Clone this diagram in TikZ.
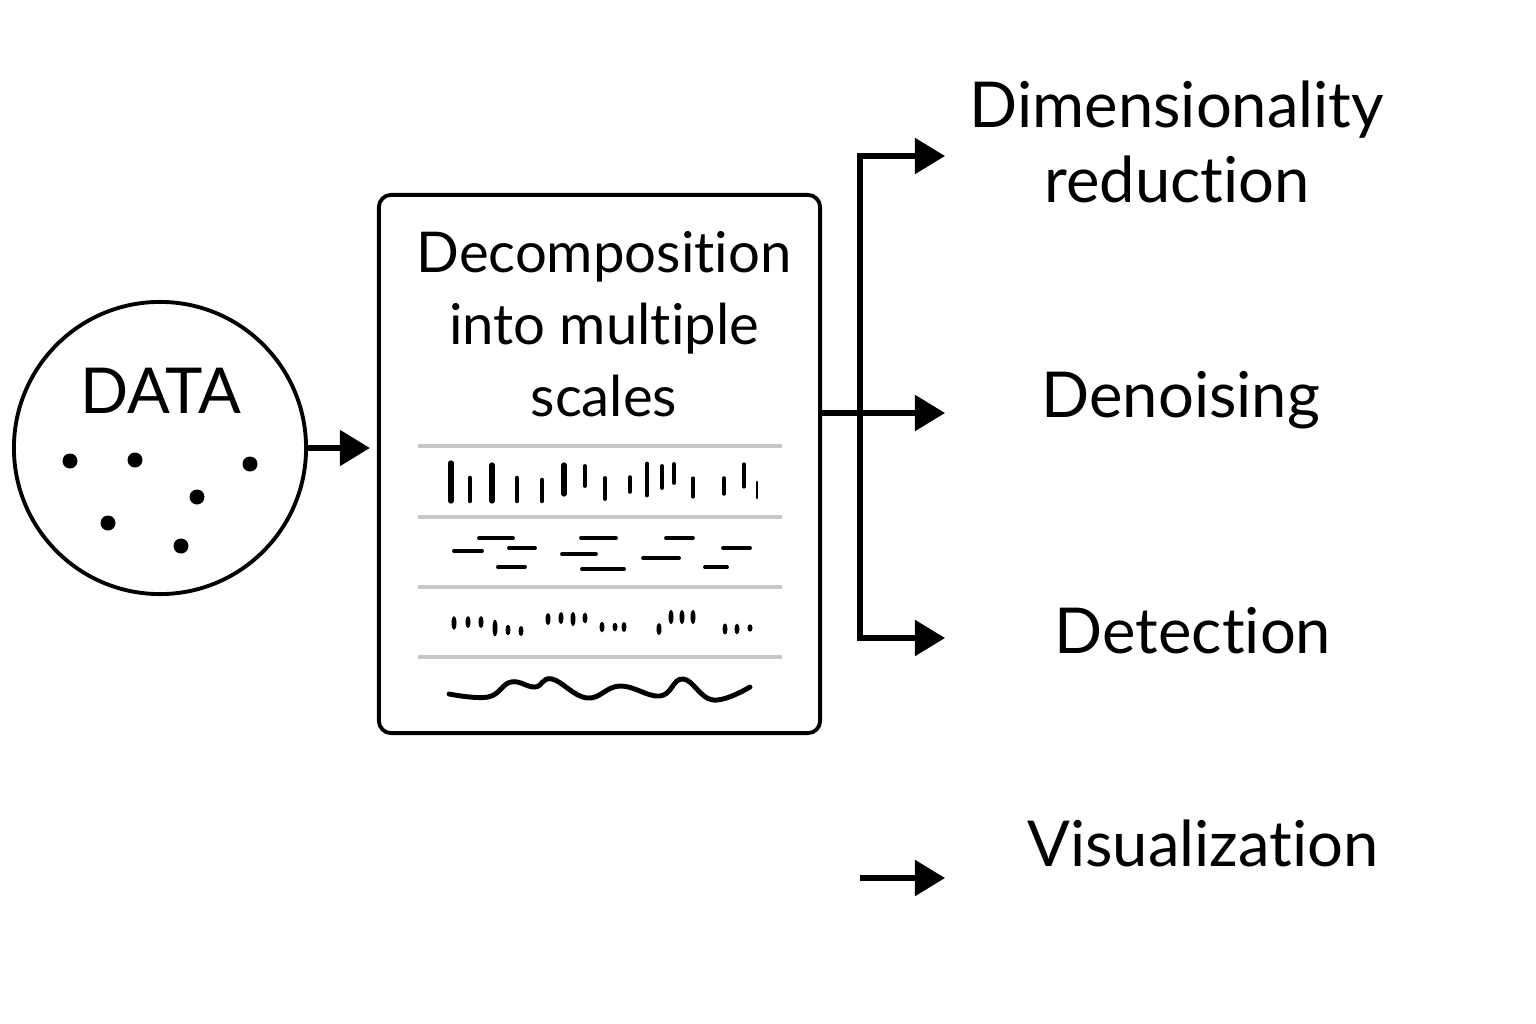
\documentclass[tikz,border=0pt]{standalone}
\usepackage{fontspec}
\setmainfont[Ligatures=NoCommon]{Lato}
\usetikzlibrary{arrows.meta,positioning}
\tikzstyle{datacircle} = [circle, draw=black, line width=1.1pt, minimum size=2.92cm, inner sep=0pt]
\tikzstyle{scalebox} = [rectangle, rounded corners=3.5pt, draw=black, line width=1.1pt, minimum width=4.41cm, minimum height=5.38cm]
\tikzstyle{bigtext} = [anchor=base, align=center, inner sep=0pt, font=\fontsize{18pt}{21.3pt}\selectfont]
\tikzstyle{boxtext} = [anchor=base, align=center, inner sep=0pt, font=\fontsize{16pt}{20.4pt}\selectfont]
\tikzstyle{arrow} = [line width=1.5pt, -{Triangle[length=0.3cm,width=0.35cm]}]
\tikzstyle{sepline} = [line width=1.1pt, draw=black!22]

\begin{document}
\begin{tikzpicture}[x=0.01cm, y=-0.01cm]
	\useasboundingbox (0,0) rectangle (1536,1024);
	\node (data) [datacircle] at (160,448) {};
	\node (datatxt) [bigtext] at (161,413) {DATA};
	\foreach \px/\py in {70/461, 135/460, 250/464, 197/497, 108/523, 181/546}
		\fill (\px,\py) circle [radius=7.5];
	\node (decomp) [scalebox] at (599.5,464) {};
	\node (decomptxt) [boxtext] at (604,416) {Decomposition\\into multiple\\scales};
	% scale rows
	\foreach \sy in {446,517,587,657}
		\draw[sepline] (418,\sy) -- (782,\sy);
	\foreach \bx/\ba/\bb/\bw in {451/463/501/1.5, 470/478/501/1.3, 492/465/501/1.5, 517/478/501/1.3, 542/480/501/1.3, 564/465/494/1.5, 585/466/486/1.1, 605/478/499/1.1, 630/477/492/1.0, 647/464/495/1.4, 662/466/488/1.1, 674/464/483/1.1, 693/478/497/0.9, 724/478/494/1.0, 744/464/487/0.9, 757/482/498/0.8}
		\draw[line width=\bw pt, line cap=round] (\bx,\ba) -- (\bx,\bb);
	\foreach \da/\db/\dy in {479/513/538, 454/482/551, 509/535/548, 498/525/567, 581/616/538, 562/596/554, 582/624/569, 666/693/538, 643/679/558, 723/750/548, 705/727/567}
		\draw[line width=1.1pt, line cap=round] (\da,\dy) -- (\db,\dy);
	\foreach \ex/\ey/\er in {454/623/6.7, 468/622/6, 481/622/6, 495/628/8.3, 508/630/5.3, 521/631/5, 548/619/6, 561/618/6, 573/619/7, 585/618/5.3, 602/627/5.3, 615/627/4.3, 624/627/5, 659/629/6, 671/617/7, 682/617/7, 693/617/7, 725/629/5.7, 737/629/5.3, 750/628/3.7}
		\fill (\ex,\ey) ellipse [x radius=2.5, y radius=\er];
	\draw[line width=1.4pt, line cap=round] plot[smooth, tension=0.7] coordinates {(449,694) (488,697) (511,682) (535,687) (552,679) (587,698) (620,686) (660,696) (683,679) (713,700) (750,687)};
	% outputs
	\coordinate (fork) at (860,413);
	\coordinate (tipdim) at (945,156);
	\coordinate (tipden) at (945,413);
	\coordinate (tipdet) at (945,638);
	\coordinate (visstart) at (860,878);
	\coordinate (tipvis) at (945,878);
	\node (dimred) [bigtext] at (1177,202) {Dimensionality\\reduction};
	\node (denoise) [bigtext] at (1181,417) {Denoising};
	\node (detect) [bigtext] at (1193,653) {Detection};
	\node (visual) [bigtext] at (1203,866) {Visualization};
	\draw [arrow] (data.east) -- ([xshift=-2pt]data.east -| decomp.west);
	\draw [arrow] (decomp.east |- fork) -- (tipden);
	\draw [arrow] (fork) |- (tipdim);
	\draw [arrow] (fork) |- (tipdet);
	\draw [arrow] (visstart) -- (tipvis);
\end{tikzpicture}
\end{document}
